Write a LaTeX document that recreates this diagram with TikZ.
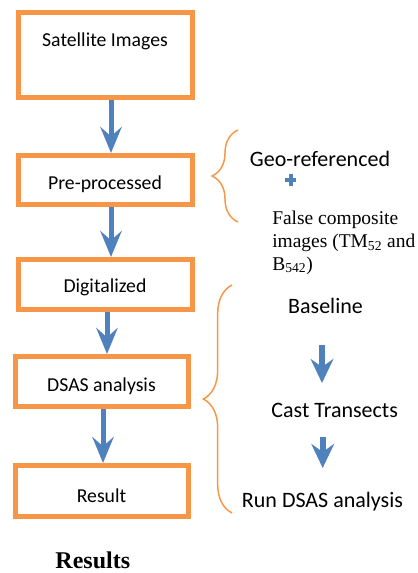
\documentclass[tikz,border=0pt]{standalone}
\usepackage{fontspec}
\setmainfont{Carlito}
\newfontfamily\serifface{Liberation Serif}
\usetikzlibrary{arrows.meta,decorations.pathreplacing}
\definecolor{boxorange}{HTML}{F79646}
\definecolor{arrowblue}{HTML}{4F81BD}
\begin{document}
\begin{tikzpicture}[x=0.75pt,y=-0.75pt,
    stepbox/.style={draw=boxorange,line width=3.75pt,minimum width=130.5pt,inner sep=0pt,
      text height=15pt,text depth=0pt,font=\fontsize{14.8}{17}\selectfont},
    flow/.style={draw=arrowblue,line width=3.75pt,-{Stealth[length=19.5pt,width=16pt,inset=7pt]}},
    subflow/.style={draw=arrowblue,line width=4.3pt,-{Stealth[length=18pt,width=17pt,inset=6pt]}},
    sidetext/.style={anchor=base,inner sep=0pt,font=\fontsize{16.5}{19}\selectfont},
    curly/.style={draw=boxorange,line width=1.1pt,decorate,decoration={brace,amplitude=#1}}]
\useasboundingbox (0,0) rectangle (417,573);

% main chain
\node[stepbox,minimum height=64.1pt,text height=9pt,text depth=21pt] (sat) at (105,55) {Satellite Images};
\node[stepbox,minimum height=36.75pt] (pre) at (105,180) {Pre-processed};
\node[stepbox,minimum height=37.5pt,text height=12pt] (dig) at (105,284.5) {Digitalized};
\node[stepbox,minimum height=37.5pt,minimum width=129.75pt] (dsas) at (101.5,381.5) {DSAS analysis};
\node[stepbox,minimum height=38.25pt,minimum width=129.75pt,text height=16.5pt] (res) at (101.5,491) {Result};
\node[anchor=base,inner sep=0pt,font=\serifface\bfseries\fontsize{18}{21}\selectfont] (results) at (92.8,568.5) {Results};

\draw[flow] ([xshift=4.5pt]sat.south) -- ([xshift=4.5pt]pre.north);
\draw[flow] ([xshift=4.5pt]pre.south) -- ([xshift=4.5pt]dig.north);
\draw[flow] ([xshift=1.5pt]dig.south) -- ([xshift=4.125pt]dsas.north);
\draw[flow] ([xshift=1.125pt]dsas.south) -- ([xshift=1.125pt]res.north);

% pre-processing side
\draw[curly=19.5pt] (238,222) -- (238,130);
\node[sidetext] (geo) at (320,166.5) {Geo-referenced};
\draw[arrowblue,line width=3pt] (285,180) -- (296,180) (290.5,174) -- (290.5,186);
\node[anchor=base west,inner sep=0pt,align=left,font=\serifface\fontsize{14.6}{16.9}\selectfont] (fcc) at (272,270)
  {False composite\\images (TM\textsubscript{52} and\\B\textsubscript{542})};

% DSAS side
\draw[curly=21.5pt] (232,513) -- (232,285);
\node[sidetext] (base) at (325.5,313) {Baseline};
\node[sidetext] (cast) at (334.7,417) {Cast Transects};
\node[sidetext] (run) at (322.5,507) {Run DSAS analysis};
\coordinate (s1) at (322,345);
\coordinate (e1) at (322,383);
\coordinate (s2) at (322.7,437);
\coordinate (e2) at (322.7,468);
\draw[subflow] (s1) -- (e1);
\draw[subflow] (s2) -- (e2);
\end{tikzpicture}
\end{document}
